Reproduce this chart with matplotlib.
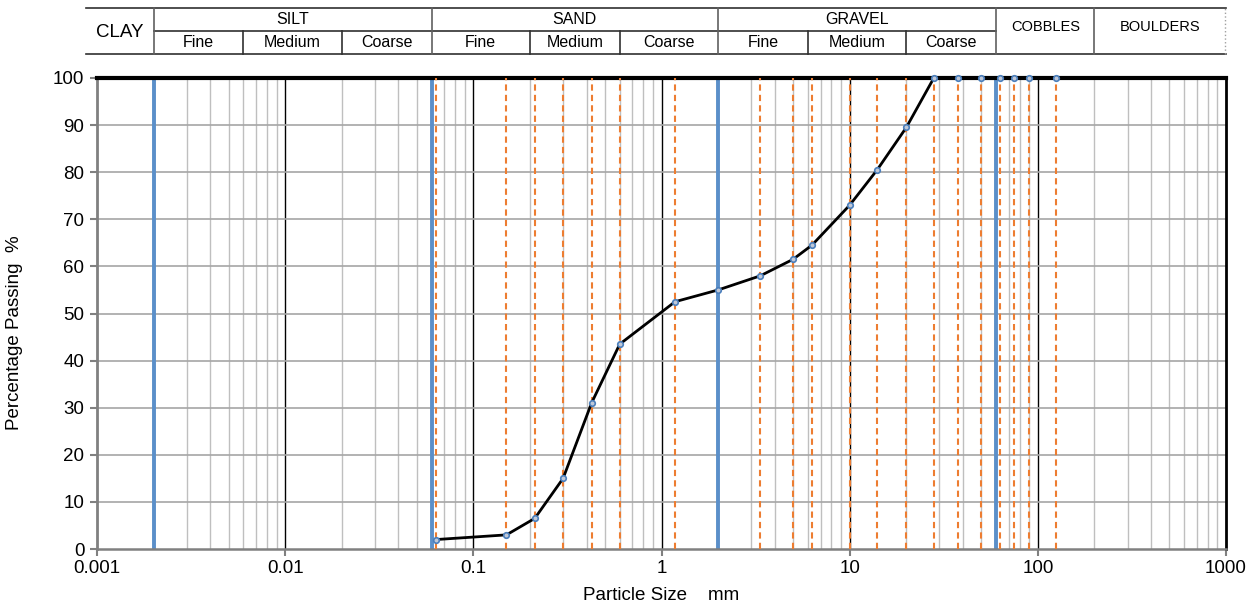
import numpy as np
import matplotlib.pyplot as plt
import matplotlib.transforms as mtransforms
from matplotlib.ticker import FixedLocator, NullFormatter

plt.rcParams['font.family'] = ['Liberation Sans', 'DejaVu Sans']

# sieve sizes (mm) and percentage passing
sieve_mm = [0.063, 0.15, 0.212, 0.3, 0.425, 0.6, 1.18, 2, 3.35, 5, 6.3, 10,
            14, 20, 28, 37.5, 50, 63, 75, 90, 125]
passing = [2, 3, 6.5, 15, 31, 43.5, 52.5, 55, 58, 61.5, 64.5, 73,
           80.5, 89.5, 100, 100, 100, 100, 100, 100, 100]

# orange sieve lines
sieve_lines = [0.063, 0.15, 0.212, 0.3, 0.425, 0.6, 1.18, 3.35, 5, 6.3, 10,
               14, 20, 28, 37.5, 50, 63, 75, 90, 125]
# blue soil class boundaries
class_bounds = [0.002, 0.06, 2, 60]

# header table
main_names = ['CLAY', 'SILT', 'SAND', 'GRAVEL', 'COBBLES', 'BOULDERS']
main_edges = [0.00087, 0.002, 0.06, 2, 60, 200, 1000]
sub_names = ['Fine', 'Medium', 'Coarse']
sub_edges = [0.002, 0.006, 0.02, 0.06, 0.2, 0.6, 2, 6, 20, 60]

xticks = [0.001, 0.01, 0.1, 1, 10, 100, 1000]
xticklabels = ['0.001', '0.01', '0.1', '1', '10', '100', '1000']
yticks = list(range(0, 101, 10))

fig = plt.figure(figsize=(12.51, 6.05), dpi=100)
ax = fig.add_axes([97 / 1251, 1 - 549 / 605, (1226 - 97) / 1251, (549 - 78) / 605])

ax.set_xscale('log')
ax.set_xlim(0.001, 1000)
ax.set_ylim(0, 100)

# grid
minor = [m * 10.0 ** e for e in range(-3, 3) for m in range(2, 10)]
for v in minor:
    ax.axvline(v, color='#bfbfbf', lw=1.0, zorder=1)
for v in xticks[1:-1]:
    ax.axvline(v, color='black', lw=1.0, zorder=1)
for v in yticks[1:-1]:
    ax.axhline(v, color='#a6a6a6', lw=1.2, zorder=1)

for v in class_bounds:
    ax.axvline(v, color='#5b8fc9', lw=2.8, zorder=2)
for v in sieve_lines:
    ax.axvline(v, color='#ed7d31', lw=1.5, ls=(0, (3, 2)), zorder=3)

ax.plot(sieve_mm, passing, color='black', lw=2, marker='o', ms=4,
        mfc='#c0c8d8', mec='#4a7ebb', mew=1.2, zorder=5, clip_on=False)

ax.set_xticks(xticks)
ax.set_xticklabels(xticklabels, fontsize=13.5)
ax.xaxis.set_minor_locator(FixedLocator(minor))
ax.xaxis.set_minor_formatter(NullFormatter())
ax.tick_params(axis='x', which='minor', length=0)
ax.set_yticks(yticks)
ax.tick_params(axis='y', labelsize=13.5, length=5, width=1.5, color='#808080',
               direction='out', pad=4)
ax.tick_params(axis='x', which='major', length=5, width=1.5, color='#808080', pad=3)

ax.spines['top'].set_linewidth(3)
ax.spines['top'].set_color('black')
ax.spines['right'].set_linewidth(2)
ax.spines['left'].set_linewidth(2)
ax.spines['left'].set_color('#808080')
ax.spines['bottom'].set_linewidth(1.8)
ax.spines['bottom'].set_color('#808080')

ax.set_xlabel('Particle Size    mm', fontsize=13.5, labelpad=7)
ax.set_ylabel('Percentage Passing  %', fontsize=13.5)
ax.yaxis.set_label_coords(-0.0655, 0.46)

# header table above the plot
tr = mtransforms.blended_transform_factory(ax.transData, fig.transFigure)
y_top, y_mid, y_bot = 1 - 8 / 605, 1 - 31 / 605, 1 - 54 / 605
lc = '#303030'
ax.plot([main_edges[0], 1000], [y_top, y_top], color=lc, lw=1.2, transform=tr, clip_on=False)
ax.plot([main_edges[0], 1000], [y_bot, y_bot], color=lc, lw=1.2, transform=tr, clip_on=False)
ax.plot([0.002, 60], [y_mid, y_mid], color=lc, lw=1.2, transform=tr, clip_on=False)
for e in main_edges[1:-1]:
    ax.plot([e, e], [y_bot, y_top], color='#606060', lw=1.2, transform=tr, clip_on=False)
for e in sub_edges[1:-1]:
    if e in main_edges:
        continue
    ax.plot([e, e], [y_bot, y_mid], color=lc, lw=1.2, transform=tr, clip_on=False)
ax.plot([990, 990], [y_bot, y_top], color='#a0a0a0', lw=1, ls=':', transform=tr, clip_on=False)

for i, name in enumerate(main_names):
    lo, hi = main_edges[i], main_edges[i + 1]
    xc = np.sqrt(lo * hi)
    if name == 'CLAY':
        ax.text(xc, (y_top + y_bot) / 2 - 0.003, name, ha='center', va='center', fontsize=13.5,
                transform=tr)
    elif name in ('COBBLES', 'BOULDERS'):
        ax.text(xc, (y_top + y_bot) / 2 + 0.006, name, ha='center', va='center', fontsize=10.5,
                transform=tr)
    else:
        ax.text(xc, (y_top + y_mid) / 2, name, ha='center', va='center', fontsize=11.5,
                transform=tr)
for j in range(len(sub_edges) - 1):
    xc = np.sqrt(sub_edges[j] * sub_edges[j + 1])
    ax.text(xc, (y_mid + y_bot) / 2, sub_names[j % 3], ha='center', va='center',
            fontsize=11.5, transform=tr)

fig.savefig('out.png', dpi=100)
